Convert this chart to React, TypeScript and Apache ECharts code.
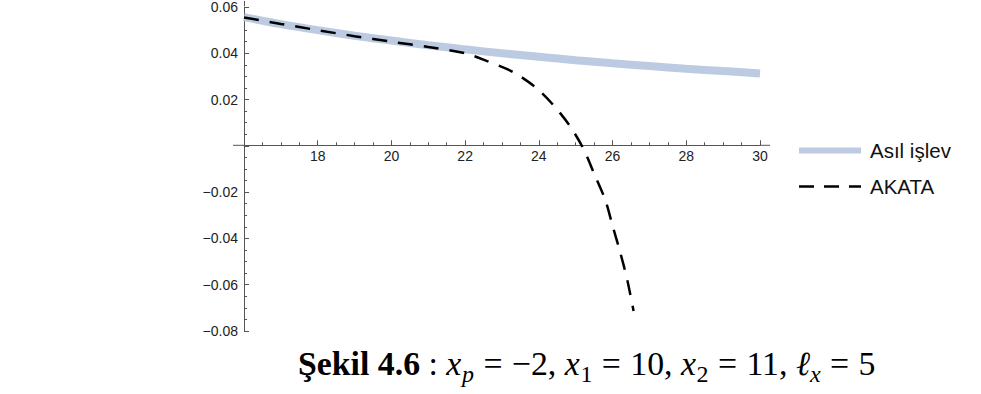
import React, { useEffect, useRef } from "react";
import * as echarts from "echarts";

// ---- data ----
const xValues = [16, 17, 18, 19, 20, 21, 22, 23, 24, 25, 26, 27, 28, 29, 30];
const asilIslev = [0.0556, 0.0526, 0.05, 0.0476, 0.0455, 0.0435, 0.0417, 0.04, 0.0385, 0.037, 0.0357, 0.0345, 0.0333, 0.0323, 0.0313];

const akataX = [16, 17, 18, 19, 20, 21, 22, 22.6, 23.3, 23.9, 24.4, 24.85, 25.2, 25.5, 25.8, 26.0, 26.2, 26.4, 26.57];
const akataY = [0.0555, 0.0527, 0.05, 0.0474, 0.045, 0.0427, 0.04, 0.0366, 0.0319, 0.0254, 0.0175, 0.0084, -0.001, -0.012, -0.0233, -0.0345, -0.0456, -0.058, -0.0714];

const seriesNames = ["Asıl işlev", "AKATA"];
const xTickLabels = [18, 20, 22, 24, 26, 28, 30];
const yTickLabels = [-0.08, -0.06, -0.04, -0.02, 0.02, 0.04, 0.06];

// caption pieces: s = style (b bold, i italic), sub = subscript, sp = space before (em)
const captionPieces = [
  { t: "Şekil 4.6", s: "b", sp: 0 },
  { t: ":", s: "", sp: 0.25 },
  { t: "x", s: "i", sp: 0.25 },
  { t: "p", s: "i", sub: true, sp: 0.02 },
  { t: "=", s: "", sp: 0.2778 },
  { t: "−2,", s: "", sp: 0.2778 },
  { t: "x", s: "i", sp: 0.25 },
  { t: "1", s: "", sub: true, sp: 0.02 },
  { t: "=", s: "", sp: 0.2778 },
  { t: "10,", s: "", sp: 0.2778 },
  { t: "x", s: "i", sp: 0.25 },
  { t: "2", s: "", sub: true, sp: 0.02 },
  { t: "=", s: "", sp: 0.2778 },
  { t: "11,", s: "", sp: 0.2778 },
  { t: "ℓ", s: "i", sp: 0.25 },
  { t: "x", s: "i", sub: true, sp: 0.0 },
  { t: "=", s: "", sp: 0.2778 },
  { t: "5", s: "", sp: 0.2778 },
];

const AXIS = "#555";
const fmtNum = (v: number) => (v < 0 ? "−" : "") + Math.abs(v).toFixed(2);

function buildCaption(startX: number, baseline: number, fs: number) {
  const ctx = document.createElement("canvas").getContext("2d")!;
  const out: any[] = [];
  let x = startX;
  const subFs = Math.round(fs * 0.7);
  for (const p of captionPieces as any[]) {
    const size = p.sub ? subFs : fs;
    const font = `${p.s === "i" ? "italic " : ""}${p.s === "b" ? "bold " : ""}${size}px "Liberation Serif"`;
    x += p.sp * fs;
    ctx.font = font;
    const w = ctx.measureText(p.t).width;
    const bl = p.sub ? baseline + 7 : baseline;
    out.push({
      type: "text",
      x,
      y: bl - 0.8375 * size,
      style: { text: p.t, fill: "#000", font, verticalAlign: "top" },
    });
    x += w;
  }
  return out;
}

export default function App() {
  const ref = useRef<HTMLDivElement>(null);
  useEffect(() => {
    if (!ref.current) return;
    const chart = echarts.init(ref.current, undefined, { renderer: "svg" });
    const caption = buildCaption(298, 375, 33.8);
    chart.setOption({
      animation: false,
      backgroundColor: "#fff",
      grid: { left: 244, right: 221, top: 6, bottom: 63 },
      legend: {
        orient: "vertical",
        left: 796,
        top: 140,
        padding: 0,
        itemWidth: 62,
        itemHeight: 20,
        itemGap: 15,
        textStyle: { fontSize: 20.5, lineHeight: 20, fontFamily: "Liberation Sans", color: "#111", padding: [0, 0, 0, 4] },
        data: [
          { name: seriesNames[0], itemStyle: { opacity: 0 }, lineStyle: { width: 6 } },
          { name: seriesNames[1], itemStyle: { opacity: 0 }, lineStyle: { width: 2.5, type: [15, 10] } },
        ],
      },
      xAxis: {
        type: "value",
        min: 16,
        max: 30,
        interval: 2,
        offset: -185.7,
        axisLine: { onZero: false, lineStyle: { color: AXIS, width: 1 } },
        axisTick: { inside: true, length: 5, lineStyle: { color: AXIS } },
        minorTick: { show: true, splitNumber: 4, length: 3, lineStyle: { color: AXIS } },
        splitLine: { show: false },
        axisLabel: {
          margin: 4,
          fontSize: 14,
          fontFamily: "Liberation Sans",
          color: "#222",
          formatter: (v: number) => (xTickLabels.includes(Math.round(v)) ? String(Math.round(v)) : ""),
        },
      },
      yAxis: {
        type: "value",
        min: -0.08,
        max: 0.06,
        interval: 0.02,
        axisLine: { show: true, onZero: false, lineStyle: { color: AXIS, width: 1 } },
        axisTick: { show: true, inside: true, length: 5, lineStyle: { color: AXIS } },
        minorTick: { show: true, splitNumber: 4, length: 3, lineStyle: { color: AXIS } },
        splitLine: { show: false },
        axisLabel: {
          margin: 6,
          fontSize: 14,
          fontFamily: "Liberation Sans",
          color: "#222",
          formatter: (v: number) =>
            yTickLabels.some((t) => Math.abs(t - v) < 1e-9) ? fmtNum(v) : "",
        },
      },
      series: [
        {
          name: seriesNames[0],
          type: "line",
          data: xValues.map((x, i) => [x, asilIslev[i]]),
          smooth: 0.3,
          symbol: "none",
          lineStyle: { color: "#bccbe2", width: 8, cap: "butt" },
          itemStyle: { color: "#bccbe2" },
          z: 2,
        },
        {
          name: seriesNames[1],
          type: "line",
          data: akataX.map((x, i) => [x, akataY[i]]),
          smooth: 0.3,
          symbol: "none",
          lineStyle: { color: "#000", width: 2.5, type: [15, 11] },
          itemStyle: { color: "#000" },
          z: 3,
        },
      ],
      graphic: [
        { type: "line", shape: { x1: 233, y1: 145.3, x2: 244, y2: 145.3 }, style: { stroke: AXIS, lineWidth: 1 } },
        { type: "line", shape: { x1: 760, y1: 145.3, x2: 770, y2: 145.3 }, style: { stroke: AXIS, lineWidth: 1 } },
        { type: "line", shape: { x1: 244.5, y1: 1, x2: 244.5, y2: 6 }, style: { stroke: AXIS, lineWidth: 1 } },
        ...caption,
      ],
    });
    return () => chart.dispose();
  }, []);
  return <div ref={ref} style={{ position: "absolute", left: 0, top: 0, width: 981, height: 394 }} />;
}
